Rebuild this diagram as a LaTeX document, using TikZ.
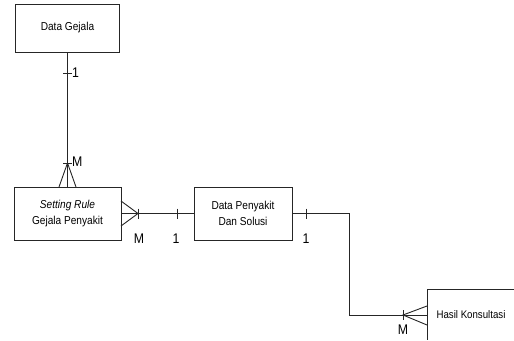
\documentclass[tikz,border=0pt]{standalone}
\usepackage{fontspec}
\setmainfont{Liberation Sans}[FakeStretch=0.88]
\begin{document}
\begin{tikzpicture}[x=1pt,y=-1pt,
  ent/.style={draw=black!85,line width=0.9pt,rectangle,inner sep=0pt,align=center,font=\fontsize{11.5}{16}\selectfont},
  conn/.style={draw=black!85,line width=0.9pt},
  card/.style={font=\fontsize{14}{14}\selectfont,inner sep=0pt}]
\useasboundingbox (0,0) rectangle (514,340);
% entities
\node[ent,minimum width=104pt,minimum height=48pt] (gejala) at (67.5,28) {Data Gejala};
\node[ent,minimum width=107pt,minimum height=53pt] (rule) at (67.5,213.5) {\textit{Setting Rule}\\Gejala Penyakit};
\node[ent,minimum width=98pt,minimum height=53pt] (penyakit) at (243,213.5) {Data Penyakit\\Dan Solusi};
\node[font=\fontsize{11}{13}\selectfont,inner sep=0pt] (hasil) at (471,315) {Hasil Konsultasi};
\coordinate (hasilTR) at (514,289);
\coordinate (hasilBL) at (427,340);
\draw[conn] (hasilTR) -| (hasilBL);
% Data Gejala -- Setting Rule
\draw[conn] (gejala.south) -- (rule.north);
\coordinate (apex1) at (67.5,163);
\draw[conn] (59,187) -- (apex1) -- (76,187);
\draw[conn] (63,163) -- (72,163);
\draw[conn] (63,73) -- (72,73);
\node[card,anchor=west] (c1) at (72,73) {1};
\node[card,anchor=west] (m1) at (72,162) {M};
% Setting Rule -- Data Penyakit
\draw[conn] (rule.east) -- (penyakit.west);
\draw[conn] (121,201) -- (138,213.5) -- (121,226);
\draw[conn] (138,208.5) -- (138,218.5);
\draw[conn] (177,208.5) -- (177,218.5);
\node[card] (m2) at (139,239) {M};
\node[card] (c2) at (176,239) {1};
% Data Penyakit -- Hasil Konsultasi
\coordinate (bend1) at (349,213.5);
\coordinate (bend2) at (349,315);
\coordinate (hasilL) at (427,315);
\draw[conn] (penyakit.east) -- (bend1) -- (bend2) -- (hasilL);
\draw[conn] (306,208.5) -- (306,218.5);
\node[card] (c3) at (306,239) {1};
\draw[conn] (427,306) -- (403,315) -- (427,325);
\draw[conn] (403,310) -- (403,320);
\node[card] (m3) at (403,330) {M};
\end{tikzpicture}
\end{document}
